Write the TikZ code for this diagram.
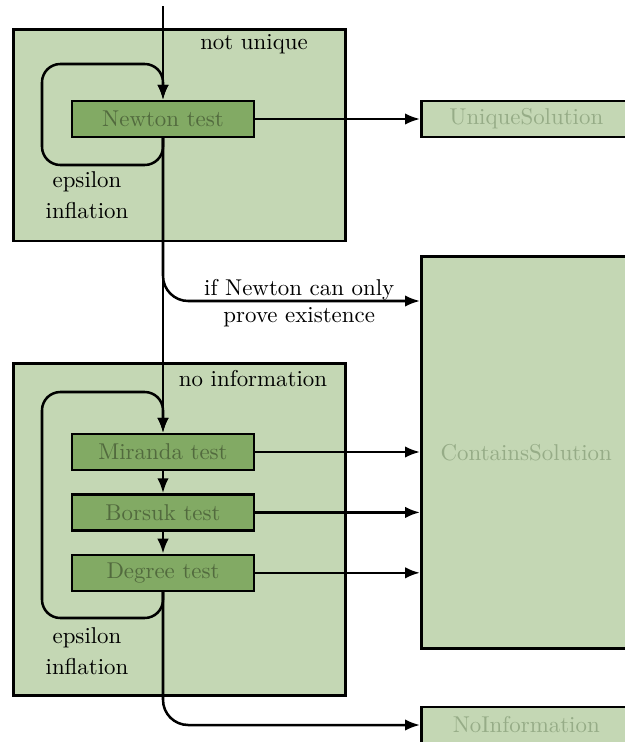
\documentclass[tikz,border=0pt]{standalone}
\usetikzlibrary{arrows.meta}
\definecolor{boxgreen}{RGB}{196,215,180}
\definecolor{testgreen}{RGB}{130,170,100}
\definecolor{testtext}{RGB}{82,106,62}
\definecolor{resulttext}{RGB}{150,172,135}
\begin{document}
\begin{tikzpicture}[x=0.437pt, y=-0.437pt, node distance={26.4pt},
  region/.style = {draw, line width=1.1pt, fill=boxgreen, anchor=north west, inner sep=0, minimum width=145.1pt},
  test/.style = {draw, line width=1.1pt, fill=testgreen, text=testtext, minimum width=79.5pt, minimum height=15.7pt, inner sep=0},
  result/.style = {draw, line width=1.1pt, fill=boxgreen, text=resulttext, minimum width=91.8pt, minimum height=15.7pt, inner sep=0},
  flow/.style = {line width=1.1pt, -{Latex[length=6.5pt,width=5pt]}},
  loop/.style = {flow, rounded corners=8pt},
  branch/.style = {flow, rounded corners=11pt}]
		\useasboundingbox (0,0) rectangle (625,742);
		\clip (0,0) rectangle (625,742);
		% the two regions
		\node[region, minimum height=92.6pt] (uniquereg) at (12,28) {};
		\node[region, minimum height=145.1pt] (noinforeg) at (12,362) {};
		\node (nulabel) at (254,44) {not unique};
		\node (nilabel) at (253,379) {no information};
		\node[align=center] (eps1) at (87,195) {epsilon\\[1.3pt]inflation};
		\node[align=center] (eps2) at (87,651) {epsilon\\[1.3pt]inflation};
		% tests
		\node[test] (newton) at (163,119) {Newton test};
		\node[test] (miranda) at (163,452) {Miranda test};
		\node[test] (borsuk) [below of=miranda] {Borsuk test};
		\node[test] (degree) [below of=borsuk] {Degree test};
		% results
		\node[result, anchor=west] (unique) at (420,119) {UniqueSolution};
		\node[result, anchor=north west, minimum height=171.3pt] (contains) at (420,255) {ContainsSolution};
		\node[result, anchor=west] (noinfo) at (420,725) {NoInformation};
		\coordinate (start) at (163,6);
		\coordinate (nuA) at (42,165);
		\coordinate (nuB) at (42,64);
		\coordinate (niA) at (42,618);
		\coordinate (niB) at (42,392);
		\coordinate (exists) at (420,301);
		% connectors
		\draw[flow] (start) -- (newton);
		\draw[loop] (newton.south) |- (nuA) -- (nuB) -| (newton.north);
		\draw[flow] (newton) -- (unique);
		\draw[flow] (newton.south) -- (miranda.north);
		\draw[branch] (newton.south) |- (exists)
			node[pos=0.765, above, inner sep=0pt] {if Newton can only}
			node[pos=0.765, below, yshift=1pt] {prove existence};
		\draw[loop] (degree.south) |- (niA) -- (niB) -| (miranda.north);
		\draw[flow] (miranda) -- (borsuk);
		\draw[flow] (borsuk) -- (degree);
		\draw[flow] (miranda) -- (miranda -| contains.west);
		\draw[flow] (borsuk) -- (borsuk -| contains.west);
		\draw[flow] (degree) -- (degree -| contains.west);
		\draw[branch] (degree.south) |- (noinfo.west);
\end{tikzpicture}
\end{document}
